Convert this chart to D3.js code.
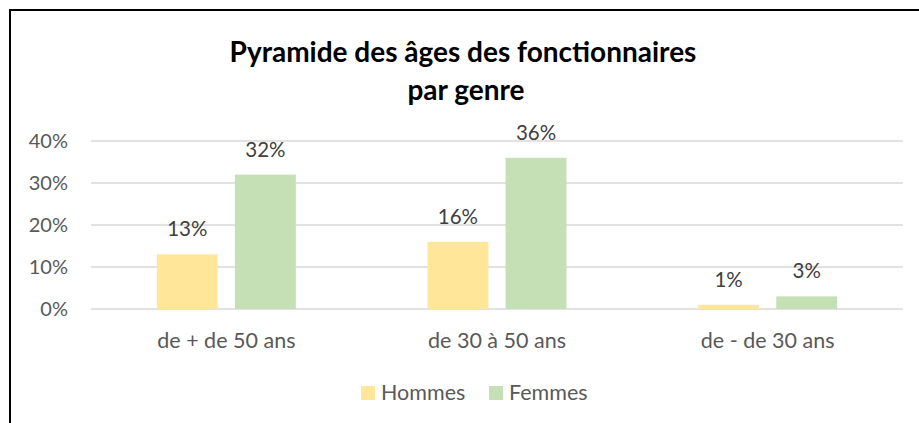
<!DOCTYPE html>
<html lang="fr">
<head>
  <meta charset="UTF-8">
  <title>Pyramide des âges des fonctionnaires par genre</title>
  <script src="https://d3js.org/d3.v7.min.js"></script>
  <style>
    body { margin: 0; padding: 0; background: #fff; }
    svg { display: block; font-family: Lato, 'Open Sans', sans-serif; }
  </style>
</head>
<body>
  <div id="chart"></div>
  <script>
    // Données
    const categories = ['de + de 50 ans', 'de 30 à 50 ans', 'de - de 30 ans'];
    const series = ['Hommes', 'Femmes'];
    const hommes = [0.13, 0.16, 0.01];
    const femmes = [0.32, 0.36, 0.03];
    const yTicks = [0, 0.1, 0.2, 0.3, 0.4];
    const colors = { Hommes: '#FFE699', Femmes: '#C5E0B4' };

    const width = 919, height = 423;
    const svg = d3.select('#chart').append('svg')
      .attr('width', width)
      .attr('height', height);

    svg.append('rect').attr('width', width).attr('height', height).attr('fill', '#fff');

    // cadre (bord haut et gauche visibles)
    svg.append('path')
      .attr('d', 'M10,423 L10,10 L919,10')
      .attr('fill', 'none')
      .attr('stroke', '#000')
      .attr('stroke-width', 2);

    // titre
    const title = svg.append('text')
      .attr('text-anchor', 'middle')
      .attr('font-weight', 'bold')
      .attr('font-size', 28)
      .attr('fill', '#000');
    title.append('tspan').attr('x', 463).attr('y', 62).text('Pyramide des âges des fonctionnaires');
    title.append('tspan').attr('x', 466).attr('y', 100).text('par genre');

    const y = d3.scaleLinear().domain([0, 0.4]).range([309, 141]);
    const x0 = d3.scaleBand().domain(categories).range([91, 903]);
    const groupW = 139;
    const x1 = d3.scaleBand().domain(series).range([0, groupW]).paddingInner(0.22);
    const pct = d3.format('.0%');

    // grille
    svg.append('g').selectAll('line')
      .data(yTicks)
      .join('line')
      .attr('x1', 91).attr('x2', 903)
      .attr('y1', d => y(d)).attr('y2', d => y(d))
      .attr('stroke', '#D9D9D9')
      .attr('stroke-width', 1.5);

    // axe Y
    const yAxis = svg.append('g')
      .attr('transform', 'translate(68,0)')
      .call(d3.axisLeft(y).tickValues(yTicks).tickFormat(pct).tickSize(0).tickPadding(0));
    yAxis.select('.domain').remove();
    yAxis.selectAll('text')
      .attr('font-family', 'Lato, sans-serif')
      .attr('font-size', 20)
      .attr('fill', '#595959');

    // axe X
    const xAxis = svg.append('g')
      .attr('transform', 'translate(0,333)')
      .call(d3.axisBottom(x0).tickSize(0).tickPadding(0));
    xAxis.select('.domain').remove();
    xAxis.selectAll('text')
      .attr('font-family', 'Lato, sans-serif')
      .attr('font-size', 21.5)
      .attr('fill', '#595959');

    // barres
    const rows = categories.map((c, i) => ({ cat: c, values: [
      { key: 'Hommes', value: hommes[i] },
      { key: 'Femmes', value: femmes[i] }
    ] }));

    const groups = svg.append('g').selectAll('g')
      .data(rows)
      .join('g')
      .attr('transform', d => `translate(${x0(d.cat) + (x0.bandwidth() - groupW) / 2},0)`);

    groups.selectAll('rect')
      .data(d => d.values)
      .join('rect')
      .attr('x', d => x1(d.key))
      .attr('y', d => y(d.value))
      .attr('width', x1.bandwidth())
      .attr('height', d => y(0) - y(d.value))
      .attr('fill', d => colors[d.key]);

    groups.selectAll('text')
      .data(d => d.values)
      .join('text')
      .attr('x', d => x1(d.key) + x1.bandwidth() / 2)
      .attr('y', d => y(d.value) - 18)
      .attr('text-anchor', 'middle')
      .attr('font-size', 20.5)
      .attr('fill', '#404040')
      .text(d => pct(d.value));

    // légende
    const legend = svg.append('g').selectAll('g')
      .data(series)
      .join('g')
      .attr('transform', (d, i) => `translate(${[361, 489][i]},386)`);
    legend.append('rect')
      .attr('width', 14).attr('height', 14)
      .attr('fill', d => colors[d]);
    legend.append('text')
      .attr('x', 20).attr('y', 14)
      .attr('font-size', 21.5)
      .attr('fill', '#595959')
      .text(d => d);
  </script>
</body>
</html>
